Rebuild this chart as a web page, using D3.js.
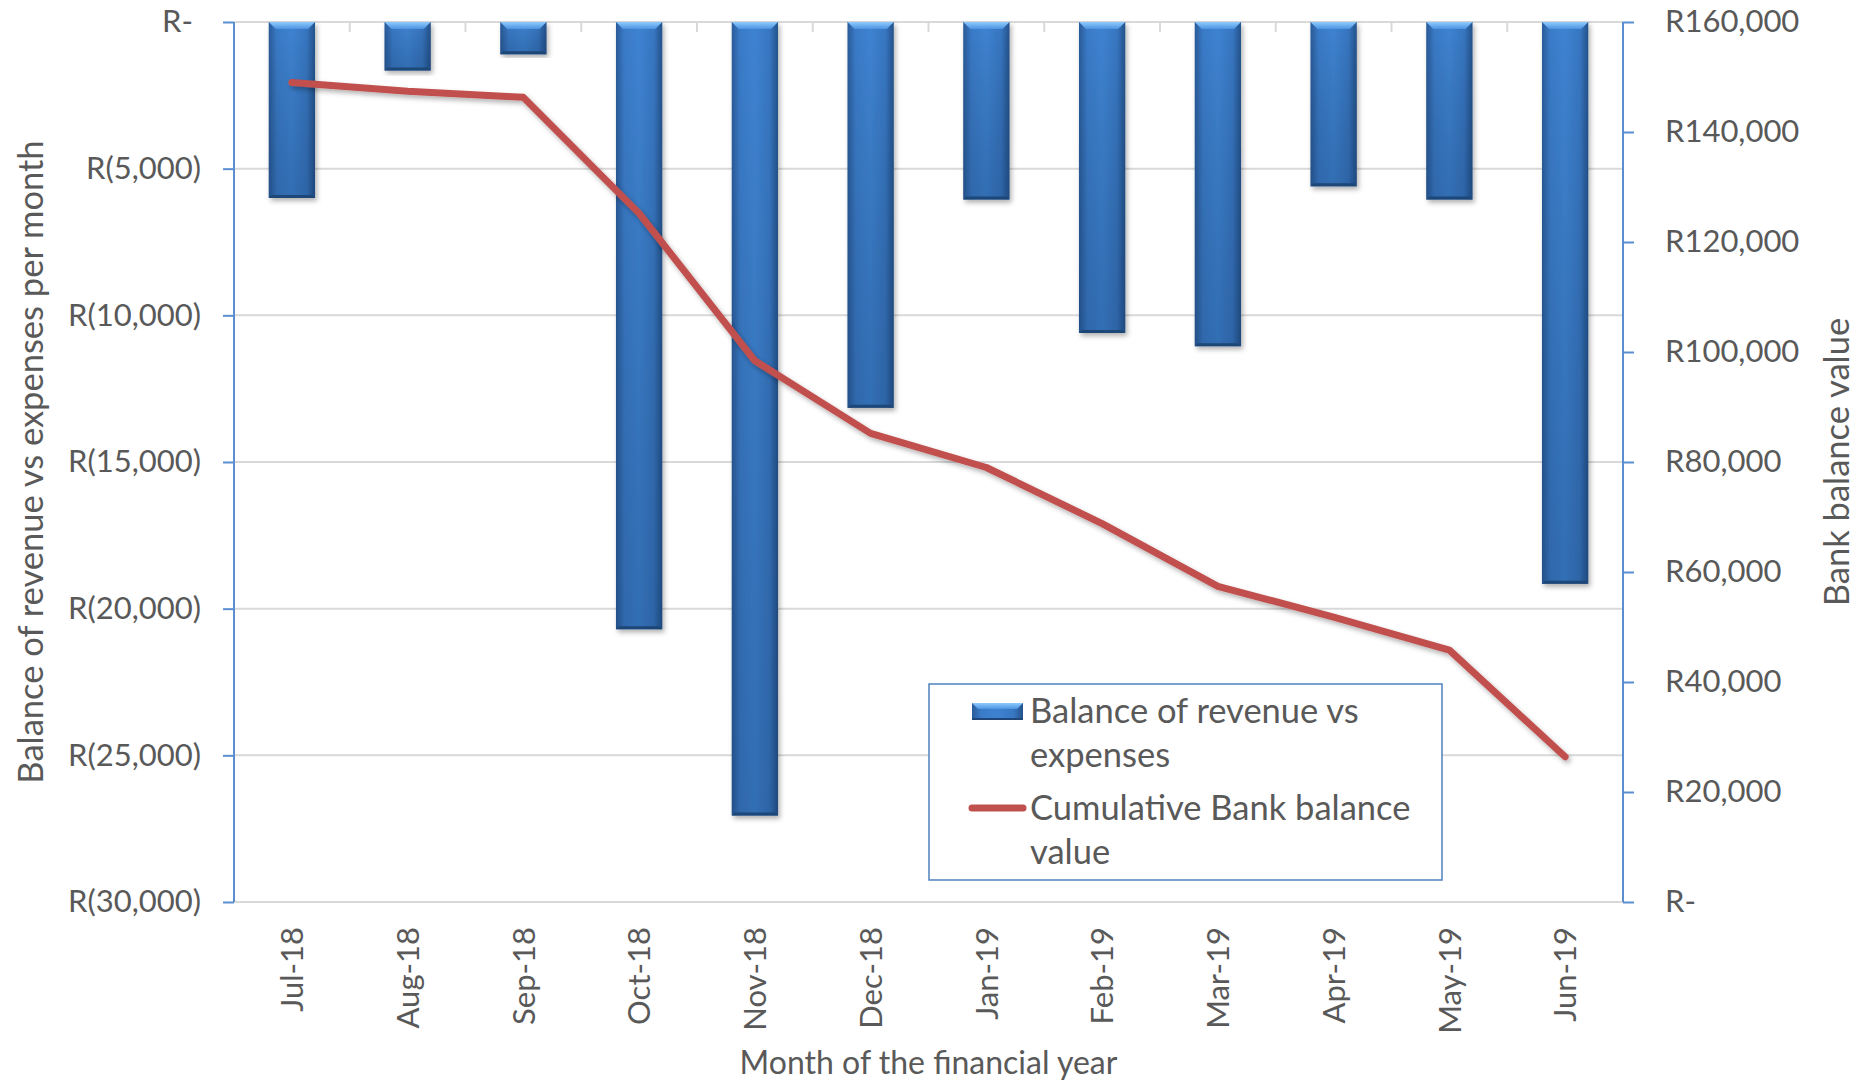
<!DOCTYPE html>
<html lang="en">
<head>
<meta charset="UTF-8">
<title>Balance of revenue vs expenses</title>
<style>
    body { margin: 0; background: #fff; }
    text { font-family: Lato, "Open Sans", sans-serif; fill: #595959; }
</style>
</head>
<body>
<div id="chart"></div>
<script src="https://d3js.org/d3.v7.min.js"></script>
<script>
    const months = ["Jul-18", "Aug-18", "Sep-18", "Oct-18", "Nov-18", "Dec-18",
                    "Jan-19", "Feb-19", "Mar-19", "Apr-19", "May-19", "Jun-19"];
    const balance = [-6000, -1650, -1100, -20700, -27050, -13150,
                     -6050, -10600, -11050, -5600, -6050, -19150];
    const cumulative = [149000, 147400, 146300, 125200, 98400, 85200,
                        79000, 68800, 57400, 51800, 45800, 26400];
    const leftTicks = [0, -5000, -10000, -15000, -20000, -25000, -30000];
    const rightTicks = [0, 20000, 40000, 60000, 80000, 100000, 120000, 140000, 160000];

    const W = 1861, H = 1080;
    const plot = { left: 234, right: 1623, top: 22, bottom: 902 };

    const svg = d3.select("#chart").append("svg")
        .attr("width", W)
        .attr("height", H);

    const defs = svg.append("defs");

    // bar fill: darker at the sides
    const gH = defs.append("linearGradient").attr("id", "barH").attr("x1", 0).attr("x2", 1).attr("y1", 0).attr("y2", 0);
    gH.append("stop").attr("offset", "0%").attr("stop-color", "#2a5b99");
    gH.append("stop").attr("offset", "18%").attr("stop-color", "#3a7bc8");
    gH.append("stop").attr("offset", "50%").attr("stop-color", "#3e83d2");
    gH.append("stop").attr("offset", "82%").attr("stop-color", "#3776c1");
    gH.append("stop").attr("offset", "100%").attr("stop-color", "#24528b");

    // darken toward the bottom
    const gV = defs.append("linearGradient").attr("id", "barV").attr("x1", 0).attr("x2", 0).attr("y1", 0).attr("y2", 1);
    gV.append("stop").attr("offset", "0%").attr("stop-color", "#000").attr("stop-opacity", 0);
    gV.append("stop").attr("offset", "100%").attr("stop-color", "#0a2548").attr("stop-opacity", 0.22);

    const gTop = defs.append("linearGradient").attr("id", "barTop").attr("x1", 0).attr("x2", 0).attr("y1", 0).attr("y2", 1);
    gTop.append("stop").attr("offset", "0%").attr("stop-color", "#8ecbff");
    gTop.append("stop").attr("offset", "100%").attr("stop-color", "#4d93e0");

    const shadow = defs.append("filter").attr("id", "shadow").attr("x", "-20%").attr("y", "-5%").attr("width", "140%").attr("height", "115%");
    shadow.append("feDropShadow").attr("dx", 2).attr("dy", 3).attr("stdDeviation", 2.5)
        .attr("flood-color", "#000").attr("flood-opacity", 0.3);

    const x = d3.scaleBand()
        .domain(months)
        .range([plot.left, plot.right])
        .paddingInner(0.6)
        .paddingOuter(0.3);

    const yL = d3.scaleLinear().domain([-30000, 0]).range([plot.bottom, plot.top]);
    const yR = d3.scaleLinear().domain([0, 160000]).range([plot.bottom, plot.top]);

    // gridlines
    svg.append("g").selectAll("line")
        .data(leftTicks)
        .join("line")
        .attr("x1", plot.left).attr("x2", plot.right)
        .attr("y1", d => yL(d)).attr("y2", d => yL(d))
        .attr("stroke", "#d9d9d9").attr("stroke-width", 2);

    // category ticks on the zero line
    const gap = (x.step() - x.bandwidth()) / 2;
    svg.append("g").selectAll("line")
        .data(months.slice(1))
        .join("line")
        .attr("x1", d => x(d) - gap).attr("x2", d => x(d) - gap)
        .attr("y1", yL(0)).attr("y2", yL(0) + 10)
        .attr("stroke", "#d9d9d9").attr("stroke-width", 2);

    // bars
    const bev = 7;
    const bars = svg.append("g").selectAll("g")
        .data(months.map((m, i) => ({ m: m, v: balance[i] })))
        .join("g")
        .attr("filter", "url(#shadow)");

    bars.append("rect")
        .attr("x", d => x(d.m)).attr("y", yL(0))
        .attr("width", x.bandwidth())
        .attr("height", d => yL(d.v) - yL(0))
        .attr("fill", "url(#barH)");
    bars.append("rect")
        .attr("x", d => x(d.m)).attr("y", yL(0))
        .attr("width", x.bandwidth())
        .attr("height", d => yL(d.v) - yL(0))
        .attr("fill", "url(#barV)");
    bars.append("path")
        .attr("d", d => {
            const x0 = x(d.m), x1 = x0 + x.bandwidth(), y0 = yL(0);
            return `M${x0},${y0}L${x1},${y0}L${x1 - bev},${y0 + bev}L${x0 + bev},${y0 + bev}Z`;
        })
        .attr("fill", "url(#barTop)");
    bars.append("path")
        .attr("d", d => {
            const x0 = x(d.m), x1 = x0 + x.bandwidth(), y1 = yL(d.v);
            return `M${x0},${y1}L${x1},${y1}L${x1 - 3},${y1 - 3}L${x0 + 3},${y1 - 3}Z`;
        })
        .attr("fill", "#1f4676");

    // left axis
    const axL = svg.append("g")
        .attr("transform", `translate(${plot.left},0)`)
        .call(d3.axisLeft(yL)
            .tickValues(leftTicks)
            .tickSize(11)
            .tickPadding(22)
            .tickFormat(d => d === 0 ? "R-" : "R(" + d3.format(",")(-d) + ")"));
    axL.select(".domain").attr("stroke", "#5b8ed0").attr("stroke-width", 2).attr("d", `M0,${plot.top}V${plot.bottom}`);
    axL.selectAll(".tick line").attr("stroke", "#5b8ed0").attr("stroke-width", 2);
    axL.selectAll(".tick text")
        .style("font-size", "31px")
        .attr("fill", "#595959")
        .attr("dx", d => d === 0 ? -8 : 0);

    // right axis
    const axR = svg.append("g")
        .attr("transform", `translate(${plot.right},0)`)
        .call(d3.axisRight(yR)
            .tickValues(rightTicks)
            .tickSize(11)
            .tickPadding(31)
            .tickFormat(d => d === 0 ? "R-" : "R" + d3.format(",")(d)));
    axR.select(".domain").attr("stroke", "#5b8ed0").attr("stroke-width", 2).attr("d", `M0,${plot.top}V${plot.bottom}`);
    axR.selectAll(".tick line").attr("stroke", "#5b8ed0").attr("stroke-width", 2);
    axR.selectAll(".tick text").style("font-size", "31px").attr("fill", "#595959");

    // month labels
    const axB = svg.append("g")
        .attr("transform", `translate(0,${plot.bottom})`)
        .call(d3.axisBottom(x).tickSize(0));
    axB.select(".domain").remove();
    axB.selectAll(".tick text")
        .attr("transform", "rotate(-90)")
        .attr("x", -25).attr("y", 0)
        .attr("dy", "0.36em")
        .style("text-anchor", "end")
        .style("font-size", "31px")
        .attr("fill", "#595959");

    // cumulative line
    const line = d3.line()
        .x((d, i) => x(months[i]) + x.bandwidth() / 2)
        .y(d => yR(d));

    svg.append("path")
        .datum(cumulative)
        .attr("d", line)
        .attr("fill", "none")
        .attr("stroke", "#c0504d")
        .attr("stroke-width", 7)
        .attr("stroke-linecap", "round")
        .attr("stroke-linejoin", "round")
        .attr("filter", "url(#shadow)");

    // axis titles
    svg.append("text")
        .attr("transform", `translate(31,${(plot.top + plot.bottom) / 2}) rotate(-90)`)
        .attr("dy", "0.35em")
        .style("text-anchor", "middle")
        .style("font-size", "34.5px")
        .text("Balance of revenue vs expenses per month");

    svg.append("text")
        .attr("transform", `translate(1837,${(plot.top + plot.bottom) / 2}) rotate(-90)`)
        .attr("dy", "0.35em")
        .style("text-anchor", "middle")
        .style("font-size", "34.5px")
        .text("Bank balance value");

    svg.append("text")
        .attr("x", (plot.left + plot.right) / 2)
        .attr("y", 1074)
        .style("text-anchor", "middle")
        .style("font-size", "32px")
        .text("Month of the financial year");

    // legend
    const lg = svg.append("g").attr("transform", "translate(929,684)");
    lg.append("rect")
        .attr("width", 513).attr("height", 196)
        .attr("fill", "#fff")
        .attr("stroke", "#4f81bd").attr("stroke-width", 1.5);

    const sym = lg.append("g").attr("transform", "translate(43,19)");
    sym.append("rect").attr("width", 51).attr("height", 17).attr("fill", "url(#barH)");
    sym.append("path").attr("d", "M0,0L51,0L45,6L6,6Z").attr("fill", "url(#barTop)");
    sym.append("rect").attr("y", 15).attr("width", 51).attr("height", 2).attr("fill", "#1f4676");

    lg.append("line")
        .attr("x1", 43).attr("x2", 94)
        .attr("y1", 124).attr("y2", 124)
        .attr("stroke", "#c0504d").attr("stroke-width", 7)
        .attr("stroke-linecap", "round");

    const legendLines = [
        ["Balance of revenue vs", 39],
        ["expenses", 83],
        ["Cumulative Bank balance", 136],
        ["value", 180]
    ];
    lg.selectAll("text.lab")
        .data(legendLines)
        .join("text")
        .attr("class", "lab")
        .attr("x", 101)
        .attr("y", d => d[1])
        .style("font-size", "34.5px")
        .text(d => d[0]);
</script>
</body>
</html>
